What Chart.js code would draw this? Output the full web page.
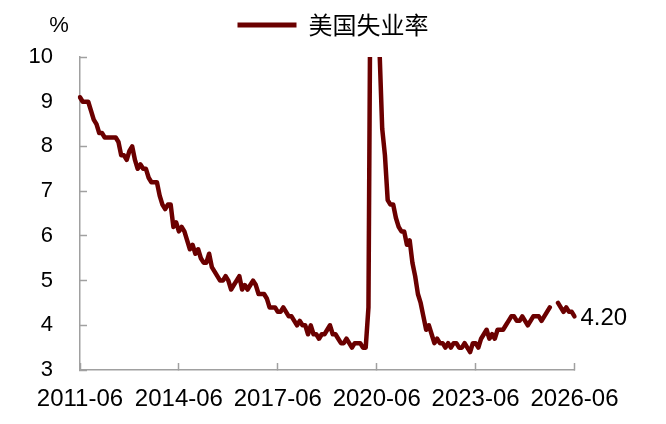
<!DOCTYPE html>
<html>
<head>
<meta charset="utf-8">
<script src="https://cdn.jsdelivr.net/npm/chart.js@4"></script>
<style>
html,body{margin:0;padding:0;background:#fff;}
#wrap{width:666px;height:424px;position:relative;}
</style>
</head>
<body>
<div id="wrap"><canvas id="c"></canvas></div>
<script>
// ---- data ----
const seriesName = '美国失业率';
const startYear = 2011, startMonth = 6, endYear = 2026, endMonth = 6;
const tickLabels = ['2011-06','2014-06','2017-06','2020-06','2023-06','2026-06'];
const unemployment = [
  9.1, 9.0, 9.0, 9.0, 8.8, 8.6, 8.5,                                   // 2011 Jun-Dec
  8.3, 8.3, 8.2, 8.2, 8.2, 8.2, 8.2, 8.1, 7.8, 7.8, 7.7, 7.9,          // 2012
  8.0, 7.7, 7.5, 7.6, 7.5, 7.5, 7.3, 7.2, 7.2, 7.2, 6.9, 6.7,          // 2013
  6.6, 6.7, 6.7, 6.2, 6.3, 6.1, 6.2, 6.1, 5.9, 5.7, 5.8, 5.6,          // 2014
  5.7, 5.5, 5.4, 5.4, 5.6, 5.3, 5.2, 5.1, 5.0, 5.0, 5.1, 5.0,          // 2015
  4.8, 4.9, 5.0, 5.1, 4.8, 4.9, 4.8, 4.9, 5.0, 4.9, 4.7, 4.7,          // 2016
  4.7, 4.6, 4.4, 4.4, 4.4, 4.3, 4.3, 4.4, 4.3, 4.2, 4.2, 4.1,          // 2017
  4.0, 4.1, 4.0, 4.0, 3.8, 4.0, 3.8, 3.8, 3.7, 3.8, 3.8, 3.9,          // 2018
  4.0, 3.8, 3.8, 3.7, 3.6, 3.6, 3.7, 3.6, 3.5, 3.6, 3.6, 3.6,          // 2019
  3.5, 3.5, 4.4, 14.8, 13.2, 11.0, 10.2, 8.4, 7.8, 6.8, 6.7, 6.7,      // 2020
  6.4, 6.2, 6.1, 6.1, 5.8, 5.9, 5.4, 5.1, 4.7, 4.5, 4.2, 3.9,          // 2021
  4.0, 3.8, 3.6, 3.7, 3.6, 3.6, 3.5, 3.6, 3.5, 3.6, 3.6, 3.5,          // 2022
  3.5, 3.6, 3.5, 3.4, 3.6, 3.6, 3.5, 3.7, 3.8, 3.9, 3.7, 3.8,          // 2023
  3.7, 3.9, 3.9, 3.9, 4.0, 4.1, 4.2, 4.2, 4.1, 4.1, 4.2, 4.1,          // 2024
  4.0, 4.1, 4.2, 4.2, 4.2, 4.1, 4.2, 4.3, 4.4, null, null, 4.5,        // 2025
  4.4, 4.3, 4.4, 4.3, 4.3, 4.2                                         // 2026 Jan-Jun
];
const lastLabel = '4.20';
const unitLabel = '%';
const yMin = 3, yMax = 10, yStep = 1;

// month categories
const months = [];
for (let y = startYear, m = startMonth; y < endYear || (y === endYear && m <= endMonth); ) {
  months.push(y + '-' + String(m).padStart(2, '0'));
  m++; if (m > 12) { m = 1; y++; }
}

const LINE = '#6b0000';
const AXIS = '#a0a0a0';
const FONT = "'Liberation Sans', Arial, 'Noto Sans CJK SC', sans-serif";

const annot = {
  id: 'annot',
  beforeLayout(chart) {
    const lg = chart.legend;
    if (lg && !lg._fitPatched) {
      const orig = lg.fit;
      lg.fit = function () { orig.call(this); this.height += 10; };
      lg._fitPatched = true;
    }
  },
  afterDatasetsDraw(chart) {
    const { ctx, chartArea } = chart;
    const meta = chart.getDatasetMeta(0);
    const pt = meta.data[meta.data.length - 1];
    ctx.save();
    ctx.fillStyle = '#000';
    ctx.font = '24px ' + FONT;
    ctx.textAlign = 'left';
    ctx.textBaseline = 'middle';
    ctx.fillText(lastLabel, pt.x + 6, pt.y + 2);
    ctx.font = '22px ' + FONT;
    ctx.textAlign = 'center';
    ctx.fillText(unitLabel, chartArea.left - 21, chartArea.top - 31);
    ctx.restore();
  }
};

new Chart(document.getElementById('c'), {
  type: 'line',
  data: {
    labels: months,
    datasets: [{
      label: seriesName,
      data: unemployment,
      borderColor: LINE,
      backgroundColor: LINE,
      borderWidth: 4.5,
      pointRadius: 0,
      tension: 0,
      spanGaps: false,
      borderJoinStyle: 'round',
      borderCapStyle: 'round'
    }]
  },
  options: {
    responsive: true,
    maintainAspectRatio: false,
    animation: false,
    devicePixelRatio: 1,
    layout: { padding: { top: 3, right: 0, bottom: 0, left: 0 } },
    plugins: {
      tooltip: { enabled: false },
      legend: {
        display: true,
        position: 'top',
        align: 'center',
        labels: {
          boxWidth: 59,
          boxHeight: 5,
          padding: 10,
          color: '#000',
          font: { size: 24, family: "'Noto Sans CJK SC', 'Liberation Sans', sans-serif" },
          generateLabels(chart) {
            return Chart.defaults.plugins.legend.labels.generateLabels(chart).map(l => {
              l.lineWidth = 0; l.fillStyle = LINE; l.strokeStyle = LINE; return l;
            });
          }
        }
      }
    },
    scales: {
      x: {
        type: 'category',
        offset: false,
        afterFit(s) { s.height = 54; },
        border: { display: true, color: AXIS, width: 1.5 },
        grid: {
          display: true,
          drawOnChartArea: false,
          drawTicks: true,
          tickLength: -7,
          tickWidth: 1.5,
          offset: false,
          color: AXIS,
          tickColor: (ctx) => tickLabels.includes(months[ctx.index]) ? AXIS : 'rgba(0,0,0,0)'
        },
        ticks: {
          autoSkip: false,
          maxRotation: 0,
          minRotation: 0,
          padding: 22,
          color: '#000',
          font: { size: 24, family: FONT },
          callback(v, i) { return tickLabels.includes(months[i]) ? months[i] : ''; }
        }
      },
      y: {
        min: yMin,
        max: yMax,
        afterFit(s) { s.width = 80; },
        border: { display: true, color: AXIS, width: 1.5 },
        grid: {
          display: true,
          drawOnChartArea: false,
          drawTicks: true,
          tickLength: -7,
          tickWidth: 1.5,
          color: AXIS
        },
        ticks: {
          stepSize: yStep,
          padding: 34,
          color: '#000',
          font: { size: 22, family: FONT }
        }
      },
      yRightSpace: {
        position: 'right',
        display: true,
        afterFit(s) { s.width = 91.5; },
        border: { display: false },
        grid: { display: false, drawTicks: false },
        ticks: { display: false }
      }
    }
  },
  plugins: [annot]
});
</script>
</body>
</html>
